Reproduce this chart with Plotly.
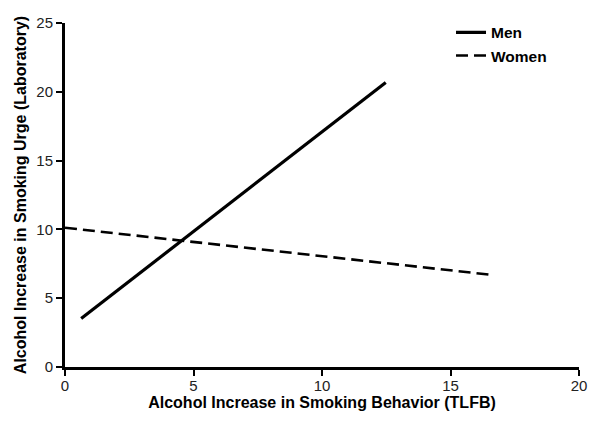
import plotly.graph_objects as go

# Data
men_x = [0.63, 12.48]
men_y = [3.52, 20.68]
women_x = [0.0, 16.67]
women_y = [10.12, 6.68]
x_ticks = [0, 5, 10, 15, 20]
y_ticks = [0, 5, 10, 15, 20, 25]

fig = go.Figure()
fig.add_trace(go.Scatter(x=men_x, y=men_y, mode="lines", name="Men",
                         line=dict(color="black", width=3.2)))
fig.add_trace(go.Scatter(x=women_x, y=women_y, mode="lines", name="Women",
                         line=dict(color="black", width=2.6, dash="12px,6px")))

font_family = "Liberation Sans, Arial, sans-serif"
fig.update_layout(
    width=600, height=421,
    margin=dict(l=65, r=21, t=23, b=54),
    paper_bgcolor="white", plot_bgcolor="white",
    font=dict(family=font_family, color="#111"),
    showlegend=True,
    legend=dict(x=0.751, y=1.021, xanchor="left", yanchor="top",
                font=dict(size=15.5, family=font_family, color="black", weight="bold"),
                bgcolor="rgba(0,0,0,0)", itemwidth=30, tracegroupgap=0),
)
fig.update_xaxes(
    range=[0, 20], tickvals=x_ticks, showgrid=False, zeroline=False,
    showline=True, linecolor="black", linewidth=3, automargin=False,
    ticks="outside", ticklen=6, tickwidth=2, tickcolor="black",
    ticklabelstandoff=-3,
    tickfont=dict(size=15, color="#222"),
    title=dict(text="<b>Alcohol Increase in Smoking Behavior (TLFB)</b>",
               font=dict(size=16, color="black"), standoff=0),
)
fig.update_yaxes(
    range=[0, 25], tickvals=y_ticks, showgrid=False, zeroline=False,
    showline=True, linecolor="black", linewidth=3, automargin=False,
    ticks="outside", ticklen=6, tickwidth=2, tickcolor="black",
    tickfont=dict(size=15, color="#222"),
    title=dict(text="<b>Alcohol Increase in Smoking Urge (Laboratory)</b>",
               font=dict(size=16, color="black"), standoff=6),
)

fig.write_html("out.html", config={"displayModeBar": False},
               post_script="document.body.style.margin='0';")
